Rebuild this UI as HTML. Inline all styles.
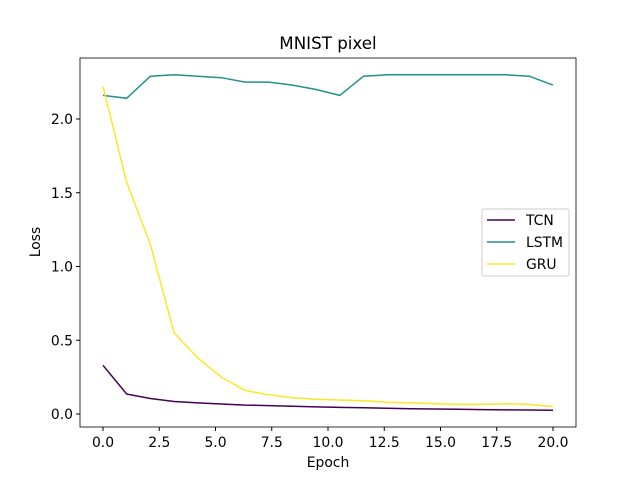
<!DOCTYPE html>
<html><head><meta charset="utf-8"><style>body{margin:0;background:#fff}svg{font-family:"DejaVu Sans","Liberation Sans",sans-serif}</style></head>
<body>
<svg id="c" width="640" height="480"></svg>
<script>
const xTicks=[0,2.5,5,7.5,10,12.5,15,17.5,20];
const xTickLabels=["0.0","2.5","5.0","7.5","10.0","12.5","15.0","17.5","20.0"];
const yTicks=[0,0.5,1,1.5,2];
const yTickLabels=["0.0","0.5","1.0","1.5","2.0"];
const seriesNames=["TCN","LSTM","GRU"];
const seriesColors=["#440154","#21918c","#fde725"];
const tcn=[0.33,0.135,0.105,0.085,0.075,0.068,0.06,0.057,0.052,0.048,0.045,0.042,0.039,0.036,0.034,0.032,0.03,0.028,0.027,0.025];
const lstm=[2.16,2.14,2.29,2.30,2.29,2.28,2.25,2.25,2.23,2.20,2.16,2.29,2.30,2.30,2.30,2.30,2.30,2.30,2.29,2.23];
const gru=[2.22,1.57,1.15,0.55,0.38,0.25,0.16,0.13,0.11,0.10,0.095,0.09,0.08,0.075,0.07,0.065,0.065,0.07,0.065,0.05];
const series=[tcn,lstm,gru];
const NS="http://www.w3.org/2000/svg",svg=document.getElementById('c');
const L=80,R=576,T=58,B=427;
const xs=v=>103+v*22.5, ys=v=>414-v*147.5;
function el(t,a,p){const e=document.createElementNS(NS,t);for(const k in a)e.setAttribute(k,a[k]);(p||svg).appendChild(e);return e;}
const t=el('text',{x:328,y:49,'text-anchor':'middle','font-size':16.7});t.textContent='MNIST pixel';


xTicks.forEach((v,i)=>{const x=xs(v);el('line',{x1:x,x2:x,y1:B,y2:B+4,stroke:'#000'});
const s=el('text',{x:x,y:B+20,'text-anchor':'middle','font-size':13.9});s.textContent=xTickLabels[i];

});
yTicks.forEach((v,i)=>{const y=ys(v);el('line',{x1:L-4,x2:L,y1:y,y2:y,stroke:'#000'});
const s=el('text',{x:L-7,y:y+5,'text-anchor':'end','font-size':13.9});s.textContent=yTickLabels[i];

});
const xl=el('text',{x:328,y:467,'text-anchor':'middle','font-size':13.9});xl.textContent='Epoch';


const yl=el('text',{x:0,y:0,'text-anchor':'middle','font-size':13.9,transform:'translate(40,242) rotate(-90)'});yl.textContent='Loss';


series.forEach((d,si)=>{const pts=d.map((v,i)=>xs(i*20/(d.length-1)).toFixed(1)+','+ys(v).toFixed(1)).join(' ');
const p=el('polyline',{points:pts,fill:'none',stroke:seriesColors[si],'stroke-width':1.5});

});
const fr=el('rect',{x:L,y:T,width:R-L,height:B-T,fill:'none',stroke:'#000','stroke-width':0.8});


const lg=el('g',{});


el('rect',{x:482,y:209,width:87,height:67,rx:2,fill:'#fff',stroke:'#ccc'},lg);
seriesNames.forEach((n,i)=>{const y=220+i*22;el('line',{x1:487,x2:515,y1:y,y2:y,stroke:seriesColors[i],'stroke-width':1.5},lg);
const s=el('text',{x:526,y:y+5,'font-size':13.9},lg);s.textContent=n;

});
</script>
</body></html>
